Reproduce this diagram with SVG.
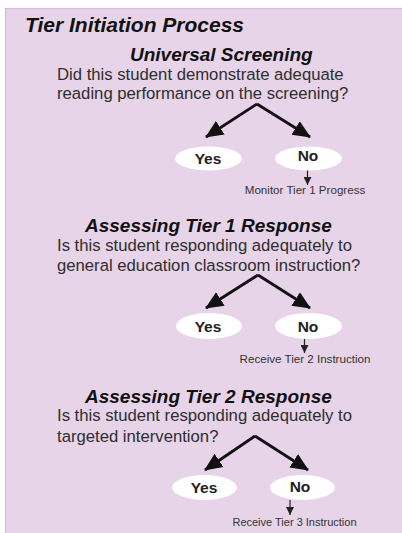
<svg xmlns="http://www.w3.org/2000/svg" width="402" height="533" viewBox="0 0 402 533">
<style>
.bg{fill:#e7d4e8;stroke:#d6b9e6;stroke-width:1.2}
.title{font-family:"Liberation Sans",Arial,sans-serif;font-weight:bold;font-style:italic;font-size:21px;fill:#111}
.head{font-family:"Liberation Sans",Arial,sans-serif;font-weight:bold;font-style:italic;font-size:19px;fill:#111}
.q{font-family:"Liberation Sans",Arial,sans-serif;font-size:16.7px;fill:#2e2e2e}
.oval{fill:#ffffff}
.yn{font-family:"Liberation Sans",Arial,sans-serif;font-weight:bold;font-size:15.5px;fill:#222;text-anchor:middle}
.out{font-family:"Liberation Sans",Arial,sans-serif;font-size:11.6px;fill:#333;text-anchor:middle}
.big{stroke:#111;stroke-width:2.8;fill:none;marker-end:url(#ah)}
.small{stroke:#222;stroke-width:1.2;fill:none;marker-end:url(#as)}
</style>
<defs>
<marker id="ah" markerUnits="userSpaceOnUse" markerWidth="20" markerHeight="18" refX="17" refY="8" orient="auto" viewBox="0 0 20 16">
<path d="M0,0 L18,8 L0,16 Z" fill="#111"/>
</marker>
<marker id="as" markerUnits="userSpaceOnUse" markerWidth="9" markerHeight="8" refX="8" refY="4" orient="auto" viewBox="0 0 9 8">
<path d="M0,0 L8,4 L0,8 Z" fill="#222"/>
</marker>
</defs>
<rect class="bg" x="5.5" y="8.5" width="398" height="526"/>
<g id="title"><text class="title" x="25" y="32">Tier Initiation Process</text></g>

<g id="connectors">
<line class="big" x1="257" y1="104" x2="206" y2="137"/>
<line class="big" x1="257" y1="104" x2="310" y2="137"/>
<line class="small" x1="307.5" y1="170" x2="307.5" y2="185"/>
<line class="big" x1="258" y1="275" x2="206" y2="308"/>
<line class="big" x1="258" y1="275" x2="310" y2="308"/>
<line class="small" x1="304.5" y1="339" x2="304.5" y2="353"/>
<line class="big" x1="255" y1="436" x2="205" y2="470"/>
<line class="big" x1="255" y1="436" x2="308" y2="470"/>
<line class="small" x1="290" y1="500" x2="290" y2="515"/>
</g>

<g id="q1">
<text class="head" x="130" y="61">Universal Screening</text>
<text class="q" x="57" y="80">Did this student demonstrate adequate</text>
<text class="q" x="57" y="99">reading performance on the screening?</text>
</g>
<g id="yes1"><ellipse class="oval" cx="208.5" cy="158.5" rx="33.5" ry="12"/><text class="yn" x="208" y="164">Yes</text></g>
<g id="no1"><ellipse class="oval" cx="308.5" cy="158.5" rx="33.5" ry="12"/><text class="yn" x="308" y="161">No</text></g>
<g id="out1"><text class="out" x="305" y="194">Monitor Tier 1 Progress</text></g>

<g id="q2">
<text class="head" x="85" y="232">Assessing Tier 1 Response</text>
<text class="q" x="57" y="251">Is this student responding adequately to</text>
<text class="q" x="57" y="271">general education classroom instruction?</text>
</g>
<g id="yes2"><ellipse class="oval" cx="209" cy="326" rx="33" ry="13"/><text class="yn" x="208" y="332">Yes</text></g>
<g id="no2"><ellipse class="oval" cx="308.5" cy="326" rx="33.5" ry="13"/><text class="yn" x="308" y="332">No</text></g>
<g id="out2"><text class="out" x="305" y="363">Receive Tier 2 Instruction</text></g>

<g id="q3">
<text class="head" x="85" y="403">Assessing Tier 2 Response</text>
<text class="q" x="57" y="421">Is this student responding adequately to</text>
<text class="q" x="57" y="442">targeted intervention?</text>
</g>
<g id="yes3"><ellipse class="oval" cx="204.5" cy="487.5" rx="32.5" ry="12.5"/><text class="yn" x="204" y="493">Yes</text></g>
<g id="no3"><ellipse class="oval" cx="302.5" cy="487.5" rx="32.5" ry="12.5"/><text class="yn" x="300" y="492">No</text></g>
<g id="out3"><text class="out" x="294.5" y="526" style="font-size:11px">Receive Tier 3 Instruction</text></g>
</svg>
